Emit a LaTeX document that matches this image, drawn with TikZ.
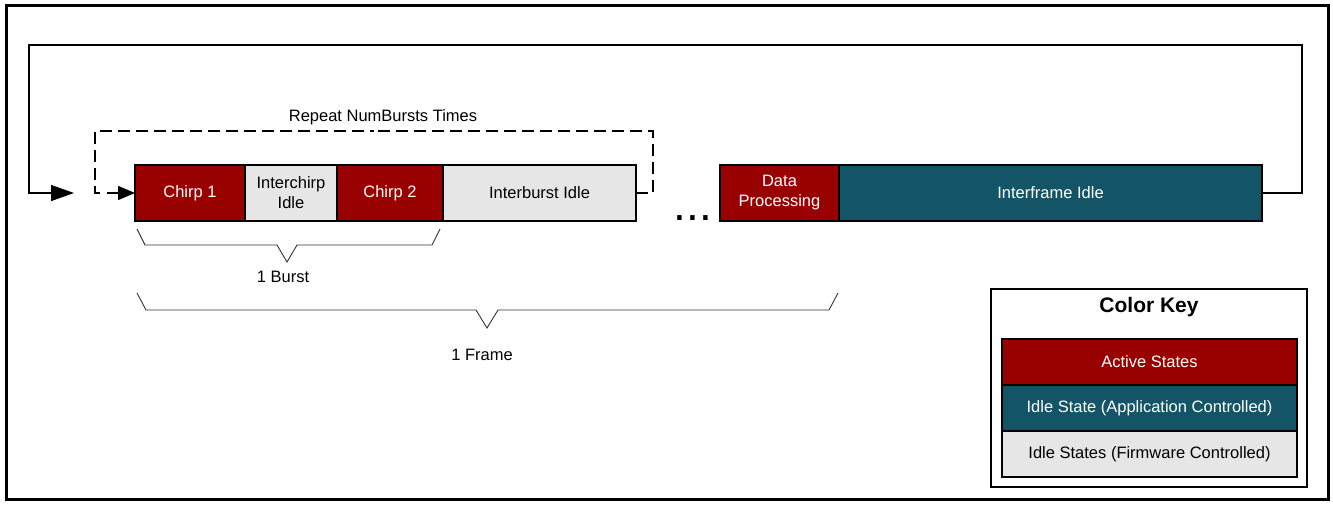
\documentclass[tikz,border=0pt]{standalone}
\usepackage{fontspec}
\setmainfont{Liberation Sans}
\usetikzlibrary{arrows.meta}
\definecolor{activeRed}{HTML}{990000}
\definecolor{appTeal}{HTML}{135566}
\definecolor{fwGray}{HTML}{E6E6E6}

\begin{document}
\begin{tikzpicture}[x=1pt,y=-1pt,
  every node/.style={font=\fontsize{16.5}{20}\selectfont, inner sep=0pt, outer sep=0pt},
  state/.style={draw=black, line width=1.8pt, rectangle, minimum height=56pt,
                anchor=north west, align=center},
  active/.style={state, fill=activeRed, text=white},
  fwidle/.style={state, fill=fwGray, text=black},
  appidle/.style={state, fill=appTeal, text=white},
  keyrow/.style={minimum width=295pt, minimum height=46pt},
  loopline/.style={line width=1.4pt, -{Triangle[length=23pt,width=16pt]}},
  repeatline/.style={line width=1.5pt, dash pattern=on 12pt off 6pt},
  entryarrow/.style={line width=1.5pt, -{Triangle[length=17pt,width=14pt]}},
  bracket/.style={line width=0.9pt, draw=black!80},
  caption/.style={anchor=center}
]
\useasboundingbox (0,0) rectangle (1333,504);

% outer frame
\draw[line width=3pt] (6.5,5.5) rectangle (1328.5,499);

% one burst
\node[active, minimum width=110pt] (c1) at (135,165) {Chirp 1};
\node[fwidle, minimum width=92pt]  (ic) at (c1.north east) {Interchirp\\Idle};
\node[active, minimum width=106pt] (c2) at (ic.north east) {Chirp 2};
\node[fwidle, minimum width=193pt] (ib) at (c2.north east) {Interburst Idle};

% ellipsis between bursts and end of frame
\node[anchor=base, font=\fontsize{46}{46}\selectfont] (dots) at (693,220) {...};

% end of frame
\node[active, minimum width=119pt]  (dp)  at (720,165) {Data\\Processing};
\node[appidle, minimum width=423pt] (ifi) at (dp.north east) {Interframe Idle};

% frame loop
\coordinate (loopNE) at (1302,45);
\coordinate (loopNW) at (29,45);
\coordinate (loopIn) at (74,193);
\draw[loopline] (ifi.east) -| (loopNE) -- (loopNW) |- (loopIn);

% burst repetition loop (dashed, drawn from both ends towards the top middle)
\coordinate (repE)   at (653,193);
\coordinate (repNE)  at (653,131);
\coordinate (repMid) at (374,131);
\coordinate (repNW)  at (95,131);
\coordinate (repW)   at (95,193);
\coordinate (repEnd) at (100,193);
\coordinate (entry)  at (107,193);
\draw[repeatline] (repEnd) -- (repW) -- (repNW) -- (repMid);
\draw[repeatline] (ib.east) -- (repE) -- (repNE) -- (repMid);
\draw[entryarrow] (entry) -- (c1.west);
\node[caption] (repeat) at (383,117) {Repeat NumBursts Times};

% burst bracket
\draw[bracket] (137,229) -- (145,245) -- (277,245) -- (287,262) -- (297,245)
  -- (432,245) -- (440,229);
\node[caption] (burst) at (283,277) {1 Burst};

% frame bracket
\draw[bracket] (137,293) -- (146,310) -- (476,310) -- (487,328) -- (498,310)
  -- (829,310) -- (838,293);
\node[caption] (frame) at (482,355) {1 Frame};

% colour key
\node[draw=black, line width=1.8pt, minimum width=316pt, minimum height=198pt,
      anchor=north west] (key) at (991,289) {};
\node[caption, font=\bfseries\fontsize{21}{24}\selectfont] (keytitle) at (1149,307) {Color Key};
\node[active, keyrow]  (kA) at (1002,339) {Active States};
\node[appidle, keyrow] (kB) at (kA.south west) {Idle State (Application Controlled)};
\node[fwidle, keyrow]  (kC) at (kB.south west) {Idle States (Firmware Controlled)};
\end{tikzpicture}
\end{document}
